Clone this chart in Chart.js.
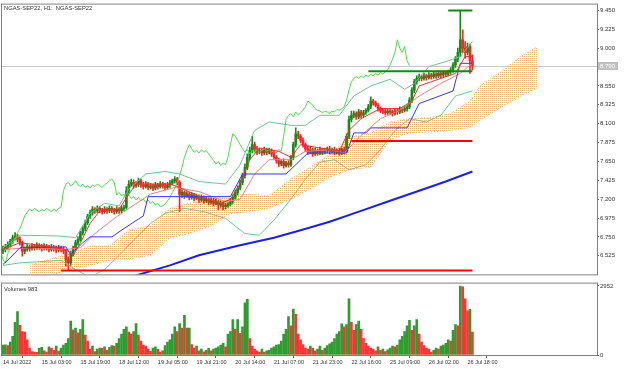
<!DOCTYPE html>
<html lang="en">
<head>
<meta charset="UTF-8">
<title>NGAS-SEP22, H1</title>
<script src="https://cdn.jsdelivr.net/npm/chart.js"></script>
<style>
  html, body { margin: 0; padding: 0; background: #fff; }
  .wrap { position: relative; width: 624px; height: 369px; overflow: hidden; }
  #priceChart { position: absolute; left: 0; top: 0; }
  #volChart { position: absolute; left: 0; top: 279px; }
</style>
</head>
<body>
<div class="wrap">
  <canvas id="priceChart" width="624" height="279"></canvas>
  <canvas id="volChart" width="624" height="90"></canvas>
</div>
<script>
// ---- data (H1 bars, left to right) ----
const xLabelIdx = [0, 16, 32, 48, 64, 80, 96, 112, 128, 144, 160, 176, 192];
const xLabels = ['14 Jul 2022', '15 Jul 03:00', '15 Jul 19:00', '18 Jul 12:00', '19 Jul 05:00', '19 Jul 21:00',
  '20 Jul 14:00', '21 Jul 07:00', '21 Jul 23:00', '22 Jul 16:00', '25 Jul 09:00', '26 Jul 02:00', '26 Jul 18:00'];
const priceTicks = [6.525, 6.750, 6.975, 7.200, 7.425, 7.650, 7.875, 8.100, 8.325, 8.550, 9.000, 9.225, 9.450];
const volTicks = [0, 2952];

const opens = [
  6.58,6.60,6.63,6.66,6.70,6.74,6.76,6.72,6.68,6.58,
  6.60,6.63,6.61,6.64,6.62,6.65,6.63,6.61,6.64,6.62,
  6.60,6.63,6.61,6.59,6.62,6.60,6.58,6.48,6.44,6.55,
  6.62,6.68,6.72,6.80,6.85,6.92,7.00,7.04,7.08,7.06,
  7.09,7.07,7.05,7.08,7.06,7.09,7.07,7.05,7.08,7.06,
  7.09,7.10,7.30,7.38,7.40,7.36,7.38,7.42,7.37,7.35,
  7.38,7.34,7.36,7.33,7.37,7.35,7.38,7.36,7.34,7.37,
  7.39,7.42,7.44,7.40,7.25,7.28,7.24,7.26,7.22,7.25,
  7.21,7.23,7.19,7.22,7.18,7.20,7.16,7.19,7.15,7.17,
  7.13,7.15,7.11,7.12,7.14,7.18,7.22,7.28,7.33,7.40,
  7.48,7.58,7.70,7.78,7.85,7.80,7.76,7.78,7.75,7.79,
  7.76,7.78,7.74,7.70,7.66,7.62,7.65,7.60,7.63,7.61,
  7.70,7.85,7.98,7.95,7.90,7.85,7.80,7.76,7.79,7.74,
  7.78,7.75,7.79,7.76,7.78,7.80,7.77,7.79,7.76,7.78,
  7.75,7.79,7.77,7.95,8.15,8.20,8.22,8.18,8.24,8.20,
  8.23,8.26,8.30,8.37,8.35,8.32,8.28,8.26,8.25,8.23,
  8.25,8.24,8.22,8.25,8.24,8.27,8.26,8.28,8.30,8.38,
  8.50,8.60,8.64,8.66,8.64,8.67,8.65,8.68,8.66,8.69,
  8.67,8.70,8.68,8.71,8.69,8.72,8.74,8.80,8.87,8.95,
  9.10,9.00,8.95,9.02,8.85];
const highs = [
  6.64,6.66,6.69,6.72,6.77,6.80,6.78,6.75,6.70,6.63,
  6.66,6.65,6.67,6.66,6.68,6.67,6.66,6.67,6.66,6.65,
  6.66,6.65,6.64,6.65,6.64,6.63,6.60,6.51,6.58,6.64,
  6.71,6.75,6.82,6.88,6.95,7.02,7.07,7.11,7.10,7.12,
  7.11,7.09,7.11,7.10,7.12,7.11,7.09,7.11,7.10,7.12,
  7.13,7.35,7.42,7.44,7.43,7.41,7.45,7.44,7.40,7.41,
  7.40,7.39,7.38,7.40,7.39,7.41,7.40,7.39,7.40,7.42,
  7.44,7.47,7.46,7.42,7.31,7.30,7.29,7.28,7.28,7.27,
  7.26,7.25,7.25,7.24,7.23,7.22,7.22,7.21,7.20,7.19,
  7.18,7.17,7.15,7.16,7.21,7.25,7.31,7.36,7.43,7.51,
  7.62,7.74,7.82,7.95,7.88,7.83,7.81,7.80,7.82,7.81,
  7.81,7.80,7.77,7.72,7.69,7.67,7.68,7.65,7.66,7.72,
  7.88,8.05,8.01,7.97,7.93,7.87,7.83,7.82,7.81,7.81,
  7.80,7.82,7.81,7.81,7.82,7.83,7.81,7.82,7.80,7.81,
  7.81,7.82,7.98,8.19,8.25,8.25,8.24,8.27,8.26,8.26,
  8.28,8.33,8.42,8.39,8.37,8.34,8.30,8.28,8.27,8.27,
  8.27,8.26,8.28,8.27,8.30,8.29,8.31,8.32,8.41,8.53,
  8.63,8.67,8.69,8.68,8.70,8.69,8.71,8.70,8.72,8.71,
  8.73,8.72,8.73,8.73,8.74,8.77,8.83,8.90,9.00,9.45,
  9.22,9.08,9.06,9.05,8.92];
const lows = [
  6.55,6.57,6.60,6.63,6.67,6.71,6.69,6.65,6.52,6.55,
  6.58,6.58,6.59,6.59,6.60,6.60,6.58,6.59,6.59,6.57,
  6.58,6.58,6.56,6.57,6.57,6.55,6.40,6.35,6.41,6.52,
  6.59,6.65,6.70,6.77,6.82,6.90,6.97,7.01,7.03,7.04,
  7.04,7.02,7.03,7.03,7.04,7.04,7.02,7.03,7.03,7.04,
  7.06,7.08,7.27,7.35,7.33,7.34,7.35,7.34,7.32,7.33,
  7.31,7.32,7.30,7.31,7.32,7.33,7.33,7.31,7.32,7.34,
  7.37,7.39,7.37,7.05,7.22,7.21,7.22,7.19,7.20,7.18,
  7.19,7.16,7.17,7.15,7.16,7.13,7.14,7.12,7.13,7.07,
  7.10,7.07,7.08,7.10,7.12,7.15,7.20,7.25,7.31,7.37,
  7.45,7.55,7.67,7.75,7.77,7.73,7.74,7.72,7.73,7.73,
  7.74,7.71,7.67,7.63,7.59,7.60,7.57,7.58,7.58,7.59,
  7.67,7.82,7.92,7.87,7.82,7.77,7.73,7.74,7.71,7.72,
  7.72,7.73,7.73,7.74,7.75,7.74,7.75,7.73,7.74,7.72,
  7.73,7.74,7.75,7.92,8.12,8.17,8.15,8.16,8.17,8.18,
  8.21,8.24,8.28,8.32,8.30,8.25,8.23,8.22,8.20,8.21,
  8.21,8.19,8.20,8.21,8.22,8.23,8.24,8.25,8.28,8.35,
  8.47,8.57,8.61,8.61,8.62,8.62,8.63,8.63,8.64,8.64,
  8.65,8.65,8.66,8.66,8.67,8.69,8.71,8.77,8.84,8.90,
  8.95,8.88,8.92,8.70,8.74];
const closes = [
  6.60,6.63,6.66,6.70,6.74,6.76,6.72,6.68,6.58,6.60,
  6.63,6.61,6.64,6.62,6.65,6.63,6.61,6.64,6.62,6.60,
  6.63,6.61,6.59,6.62,6.60,6.58,6.48,6.44,6.55,6.62,
  6.68,6.72,6.80,6.85,6.92,7.00,7.04,7.08,7.06,7.09,
  7.07,7.05,7.08,7.06,7.09,7.07,7.05,7.08,7.06,7.09,
  7.10,7.30,7.38,7.40,7.36,7.38,7.42,7.37,7.35,7.38,
  7.34,7.36,7.33,7.37,7.35,7.38,7.36,7.34,7.37,7.39,
  7.42,7.44,7.40,7.25,7.28,7.24,7.26,7.22,7.25,7.21,
  7.23,7.19,7.22,7.18,7.20,7.16,7.19,7.15,7.17,7.13,
  7.15,7.11,7.12,7.14,7.18,7.22,7.28,7.33,7.40,7.48,
  7.58,7.70,7.78,7.85,7.80,7.76,7.78,7.75,7.79,7.76,
  7.78,7.74,7.70,7.66,7.62,7.65,7.60,7.63,7.61,7.70,
  7.85,7.98,7.95,7.90,7.85,7.80,7.76,7.79,7.74,7.78,
  7.75,7.79,7.76,7.78,7.80,7.77,7.79,7.76,7.78,7.75,
  7.79,7.77,7.95,8.15,8.20,8.22,8.18,8.24,8.20,8.23,
  8.26,8.30,8.37,8.35,8.32,8.28,8.26,8.25,8.23,8.25,
  8.24,8.22,8.25,8.24,8.27,8.26,8.28,8.30,8.38,8.50,
  8.60,8.64,8.66,8.64,8.67,8.65,8.68,8.66,8.69,8.67,
  8.70,8.68,8.71,8.69,8.72,8.74,8.80,8.87,8.95,9.10,
  9.00,8.95,9.02,8.85,8.79];
const volumes = [
  420,430,400,550,800,1400,1860,1270,1000,980,
  650,300,150,120,110,280,330,180,130,350,
  290,200,380,170,300,420,500,700,1450,1080,
  1150,950,1100,1520,850,600,250,380,150,250,
  300,280,350,200,330,400,380,500,700,900,
  1100,1200,980,900,1000,1340,850,600,420,380,
  250,160,300,350,240,120,180,400,550,650,
  900,1200,1000,1340,1150,1700,1150,1150,450,300,
  380,180,250,140,200,280,180,250,300,350,
  420,500,350,900,1000,1520,1100,1520,930,1200,
  2230,2380,700,380,250,180,130,250,130,180,
  200,300,350,420,450,600,900,1100,1640,1250,
  1960,1740,890,650,450,300,250,380,300,180,
  250,380,200,300,400,480,550,700,900,1000,
  1330,1200,1300,2400,1400,1050,1300,1450,1100,700,
  500,380,300,250,180,350,200,250,150,220,
  300,380,350,420,650,800,1000,1250,1480,1050,
  1250,1520,900,550,400,300,250,130,200,300,
  250,380,420,500,650,600,1050,1300,1250,2952,
  2920,2400,1890,1950,983];

// indicator lines: [bar index, price]
const kijun = [[0,6.42],[3,6.50],[7,6.62],[26,6.63],[28,6.54],[33,6.68],[36,6.75],[45,6.75],[50,6.85],[58,7.00],
  [60,7.23],[94,7.23],[99,7.50],[117,7.50],[126,7.75],[142,7.75],[145,7.99],[150,7.99],[152,8.05],[167,8.05],
  [172,8.34],[186,8.49],[189,8.82],[194,8.82]];
const tenkan = [[0,6.60],[7,6.68],[15,6.65],[26,6.60],[29,6.53],[32,6.68],[36,6.91],[40,7.06],[48,7.08],[52,7.26],
  [55,7.38],[69,7.38],[73,7.34],[81,7.23],[90,7.15],[94,7.20],[98,7.38],[102,7.67],[106,7.81],[114,7.77],
  [119,7.70],[123,7.85],[131,7.81],[139,7.77],[143,8.02],[148,8.16],[156,8.28],[164,8.28],[169,8.37],[172,8.55],
  [181,8.64],[187,8.70],[191,8.90],[194,8.90]];
const maFast = [[0,6.60],[11,6.62],[26,6.60],[32,6.62],[38,6.79],[46,6.97],[52,7.09],[61,7.26],[71,7.34],[81,7.29],
  [92,7.17],[98,7.20],[104,7.50],[110,7.67],[119,7.67],[125,7.77],[135,7.79],[141,7.75],[148,7.96],[156,8.16],
  [164,8.26],[172,8.43],[181,8.58],[189,8.70],[194,8.82]];
const maSlow = [[50,6.23],[55,6.29],[69,6.41],[81,6.53],[98,6.65],[112,6.74],[123,6.83],[135,6.93],[148,7.06],
  [160,7.18],[172,7.30],[183,7.41],[194,7.53]];
const bbUpper = [[0,6.62],[7,6.77],[24,6.76],[30,6.74],[36,7.03],[42,7.15],[48,7.12],[52,7.32],[59,7.50],[67,7.53],
  [73,7.50],[81,7.41],[92,7.38],[98,7.61],[104,8.02],[110,8.12],[119,8.08],[125,8.08],[131,8.20],[139,8.20],
  [145,8.43],[152,8.55],[160,8.63],[166,8.51],[170,8.58],[176,8.78],[183,8.84],[189,8.90],[194,9.08]];
const bbLower = [[0,6.41],[7,6.44],[24,6.47],[30,6.36],[36,6.27],[42,6.36],[48,6.53],[55,6.74],[61,6.91],[67,7.03],
  [75,7.09],[83,7.05],[92,6.97],[100,6.79],[106,6.77],[112,6.95],[119,7.20],[125,7.44],[131,7.64],[137,7.67],
  [143,7.55],[150,7.61],[156,7.79],[162,8.02],[168,8.16],[175,8.12],[181,8.20],[187,8.43],[194,8.49]];
const spanA = [[11,6.41],[19,6.48],[28,6.56],[36,6.64],[44,6.64],[52,6.83],[61,6.88],[69,7.09],[77,7.15],[86,7.20],
  [94,7.24],[102,7.26],[110,7.24],[119,7.44],[127,7.58],[135,7.73],[143,7.94],[152,7.99],[160,8.12],[168,8.16],
  [176,8.17],[185,8.22],[193,8.37],[197,8.55],[205,8.70],[214,8.90],[221,9.02]];
const spanB = [[11,6.27],[19,6.29],[28,6.36],[36,6.41],[44,6.47],[52,6.48],[61,6.53],[69,6.74],[77,6.79],[86,6.88],
  [94,7.03],[102,7.05],[110,7.09],[119,7.20],[127,7.32],[135,7.46],[143,7.55],[152,7.58],[160,7.91],[168,7.99],
  [176,8.00],[185,8.02],[193,8.05],[197,8.14],[205,8.28],[214,8.43],[221,8.53]];
const chikouShift = 26;

// horizontal levels drawn on the chart
const levelPrices = [6.35, 7.894, 8.725, 9.45];
const levelFrom = [24, 144, 151, 184];

// ---- drawing ----
const N = closes.length;
const X_MIN = -0.4, X_MAX = 245.5;
const FONT = 'Liberation Sans, Arial, sans-serif';
const UP = '#168c16', DOWN = '#ff2020';
const candleCol = closes.map((c, i) => c >= opens[i] ? UP : DOWN);
const volCol = volumes.map((v, i) => (i === 0 || v >= volumes[i - 1]) ? '#2f9c2f' : '#ff3333');
const pts = arr => arr.map(p => ({ x: p[0], y: p[1] }));

// dotted cloud fill
const pc = document.createElement('canvas');
pc.width = 2; pc.height = 2;
const pctx = pc.getContext('2d');
pctx.fillStyle = '#f6ad70';
pctx.fillRect(0, 0, 1, 1);
const cloudFill = pctx.createPattern(pc, 'repeat');

function line(data, color, width, order, extra) {
  return Object.assign({
    type: 'line', data: data, borderColor: color, borderWidth: width,
    pointRadius: 0, fill: false, order: order, tension: 0
  }, extra || {});
}

const levelColors = ['#ff0000', '#ff0000', '#118a11', '#118a11'];
const levelSets = levelPrices.map((p, k) =>
  line([{ x: levelFrom[k], y: p }, { x: N - 1, y: p }], levelColors[k], 2, 0));

const frame = {
  id: 'frame',
  afterDraw(chart) {
    const { ctx, chartArea: a } = chart;
    ctx.save();
    ctx.strokeStyle = '#808080';
    ctx.lineWidth = 1;
    ctx.strokeRect(a.left - 0.5, a.top - 0.5, a.right - a.left + 1, a.bottom - a.top + 1);
    ctx.restore();
  }
};

const priceDecor = {
  id: 'priceDecor',
  beforeDatasetsDraw(chart) {
    const { ctx, chartArea: a, scales: { y } } = chart;
    const py = Math.round(y.getPixelForValue(closes[N - 1])) + 0.5;
    ctx.save();
    ctx.strokeStyle = '#c8c8c8';
    ctx.lineWidth = 1;
    ctx.beginPath(); ctx.moveTo(a.left, py); ctx.lineTo(a.right, py); ctx.stroke();
    ctx.restore();
  },
  afterDraw(chart) {
    const { ctx, chartArea: a, scales: { y } } = chart;
    const py = Math.round(y.getPixelForValue(closes[N - 1]));
    ctx.save();
    ctx.fillStyle = '#c0c0c0';
    ctx.fillRect(a.right + 1, py - 4, 20, 8);
    ctx.fillStyle = '#ffffff';
    ctx.font = '6px ' + FONT;
    ctx.textBaseline = 'middle';
    ctx.fillText(closes[N - 1].toFixed(3), a.right + 3, py);
    ctx.fillStyle = '#333';
    ctx.font = '5.8px ' + FONT;
    ctx.fillText('NGAS-SEP22, H1:  NGAS-SEP22', a.left + 2, a.top + 4);
    ctx.restore();
  }
};

new Chart(document.getElementById('priceChart'), {
  type: 'bar',
  data: {
    datasets: [
      line(pts(spanA), '#f4a460', 1, 20, { borderDash: [1, 2], fill: '+1', backgroundColor: cloudFill }),
      line(pts(spanB), '#f4a460', 1, 20, { borderDash: [1, 2] }),
      {
        type: 'bar', data: highs.map((h, i) => ({ x: i, y: [lows[i], h] })),
        backgroundColor: candleCol, barThickness: 1, grouped: false, order: 10, borderWidth: 0
      },
      {
        type: 'bar', data: opens.map((o, i) => ({ x: i, y: [o, closes[i]] })),
        backgroundColor: candleCol, barThickness: 2, minBarLength: 1, grouped: false, order: 9, borderWidth: 0
      },
      line(pts(maSlow), '#1a1ef0', 2, 6),
      line(pts(bbUpper), '#6cc596', 1, 5),
      line(pts(bbLower), '#6cc596', 1, 5),
      line(closes.map((c, i) => ({ x: i - chikouShift, y: c })), '#45e045', 1, 4),
      line(pts(kijun), '#3636ff', 1, 3),
      line(pts(maFast), '#ff7a7a', 1, 3),
      line(pts(tenkan), '#ff2a2a', 1, 2),
      ...levelSets
    ]
  },
  options: {
    responsive: false,
    animation: false,
    devicePixelRatio: 1,
    events: [],
    layout: { padding: { top: 2, bottom: 2, left: 2, right: 0 } },
    plugins: { legend: { display: false }, tooltip: { enabled: false } },
    scales: {
      x: { type: 'linear', min: X_MIN, max: X_MAX, offset: false, display: false },
      y: {
        position: 'right', min: 6.3025, max: 9.52,
        afterBuildTicks: s => { s.ticks = priceTicks.map(v => ({ value: v })); },
        afterFit: s => { s.width = 27; },
        ticks: { font: { family: FONT, size: 6 }, color: '#333', padding: 1, callback: v => v.toFixed(3) },
        grid: { drawOnChartArea: false, tickLength: 2, color: '#666' },
        border: { color: '#808080' }
      }
    }
  },
  plugins: [priceDecor, frame]
});

const volDecor = {
  id: 'volDecor',
  afterDraw(chart) {
    const { ctx, chartArea: a } = chart;
    ctx.save();
    ctx.fillStyle = '#333';
    ctx.font = '5.8px ' + FONT;
    ctx.textBaseline = 'middle';
    ctx.fillText('Volumes ' + volumes[N - 1], a.left + 2, a.top + 6);
    ctx.restore();
  }
};

new Chart(document.getElementById('volChart'), {
  type: 'bar',
  data: {
    datasets: [{
      data: volumes.map((v, i) => ({ x: i, y: v })),
      backgroundColor: volCol, barThickness: 2, borderWidth: 0
    }]
  },
  options: {
    responsive: false,
    animation: false,
    devicePixelRatio: 1,
    events: [],
    layout: { padding: { top: 1, bottom: 0, left: 2, right: 0 } },
    plugins: { legend: { display: false }, tooltip: { enabled: false } },
    scales: {
      x: {
        type: 'linear', min: X_MIN, max: X_MAX, offset: false,
        afterBuildTicks: s => { s.ticks = xLabelIdx.map(v => ({ value: v })); },
        afterFit: s => { s.height = 14; },
        ticks: {
          font: { family: FONT, size: 5.5 }, color: '#333', autoSkip: false, maxRotation: 0,
          align: 'start', padding: 1,
          callback: v => xLabels[xLabelIdx.indexOf(v)]
        },
        grid: { drawOnChartArea: false, tickLength: 3, color: '#666' },
        border: { color: '#808080' }
      },
      y: {
        position: 'right', min: 0, max: 3054,
        afterBuildTicks: s => { s.ticks = volTicks.map(v => ({ value: v })); },
        afterFit: s => { s.width = 27; },
        ticks: { font: { family: FONT, size: 6 }, color: '#333', padding: 1, callback: v => String(v) },
        grid: { drawOnChartArea: false, tickLength: 2, color: '#666' },
        border: { color: '#808080' }
      }
    }
  },
  plugins: [volDecor, frame]
});
</script>
</body>
</html>
